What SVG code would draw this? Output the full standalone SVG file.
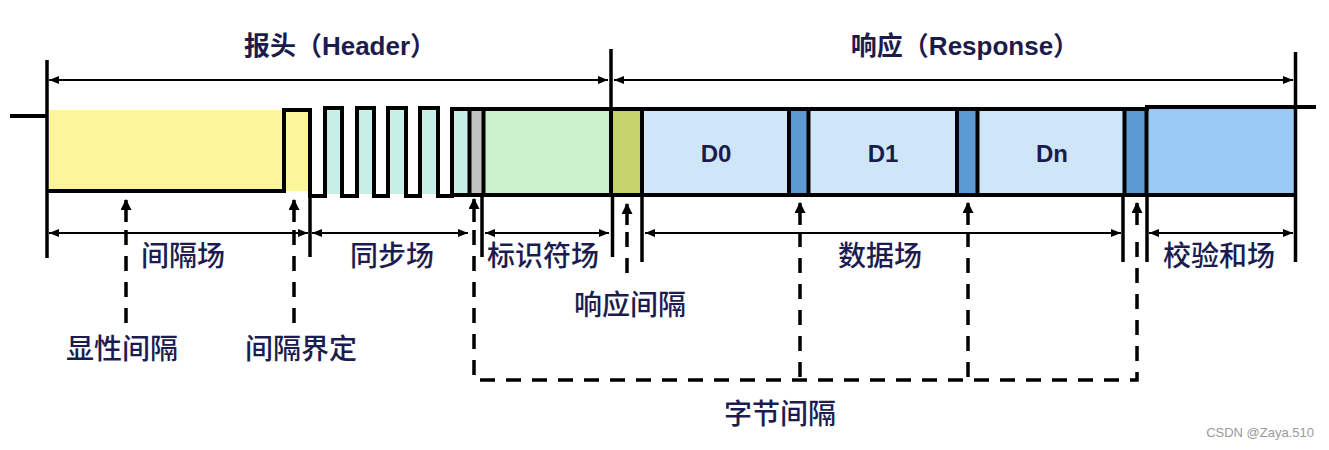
<svg xmlns="http://www.w3.org/2000/svg" width="1329" height="450" viewBox="0 0 1329 450">
<style>
.sig{fill:none;stroke:#000;stroke-width:4;stroke-linejoin:miter}
.tick{stroke:#000;stroke-width:3.5;fill:none}
.dim{stroke:#000;stroke-width:2;fill:none;marker-start:url(#ah);marker-end:url(#ah)}
.ptr{stroke:#000;stroke-width:3.5;fill:none;marker-end:url(#ahp)}
.dash{stroke:#000;stroke-width:3.5;fill:none;stroke-dasharray:15 11}
.sep{stroke:#000;stroke-width:4}
.title{font-family:"Liberation Sans","Noto Sans CJK SC",sans-serif;font-weight:bold;font-size:26px;fill:#1c1c4c;text-anchor:middle}
.lbl{font-family:"Noto Sans CJK SC",sans-serif;font-size:28px;font-weight:500;fill:#1c1c50;text-anchor:middle}
.dl{font-family:"Liberation Sans",sans-serif;font-weight:bold;font-size:24px;fill:#1c1c4c;text-anchor:middle}
</style>
<defs>
<marker id="ah" viewBox="0 0 10 8" refX="10" refY="4" markerWidth="11" markerHeight="8" markerUnits="userSpaceOnUse" orient="auto-start-reverse"><path d="M0,0 L10,4 L0,8 z" fill="#000"/></marker>
<marker id="ahp" viewBox="0 0 10 10" refX="9" refY="5" markerWidth="11" markerHeight="11" markerUnits="userSpaceOnUse" orient="auto"><path d="M0,0 L10,5 L0,10 z" fill="#000"/></marker>
</defs>
<rect width="1329" height="450" fill="#fff"/>

<g id="fills">
<rect x="49" y="110" width="235" height="81" fill="#fdf59c"/>
<rect x="286" y="111" width="23" height="80" fill="#fdf59c"/>
<rect x="327" y="110" width="14" height="84" fill="#c6f0e6"/>
<rect x="358" y="110" width="14" height="84" fill="#c6f0e6"/>
<rect x="390" y="110" width="15" height="84" fill="#c6f0e6"/>
<rect x="421" y="110" width="15" height="84" fill="#c6f0e6"/>
<rect x="454" y="111" width="14" height="83" fill="#c6f0e6"/>
<rect x="471" y="111" width="11" height="83" fill="#c2c2c2"/>
<rect x="485" y="111" width="124" height="83" fill="#c9f2cc"/>
<rect x="613" y="111" width="27" height="83" fill="#c6d46c"/>
<rect x="644" y="111" width="144" height="83" fill="#cfe6f8"/>
<rect x="791" y="111" width="16" height="83" fill="#5b9ad2"/>
<rect x="810" y="111" width="146" height="83" fill="#cfe6f8"/>
<rect x="959" y="111" width="17" height="83" fill="#5b9ad2"/>
<rect x="979" y="111" width="144" height="83" fill="#cfe6f8"/>
<rect x="1126" y="111" width="19" height="83" fill="#5b9ad2"/>
<rect x="1148" y="109" width="146" height="85" fill="#99c9f4"/>
</g>

<g id="signal">
<path class="sig" d="M10,116 H47 M47,191 H284 V110 H310 V196 H325 V108 H342 V196 H357 V108 H374 V196 H388 V108 H406 V196 H420 V108 H438 V196 H452 V109 H1147 V107 H1316 M452,195 H1297"/>
<line class="sep" x1="469.5" y1="109" x2="469.5" y2="196"/>
<line class="sep" x1="483.5" y1="109" x2="483.5" y2="196"/>
<line class="sep" x1="611" y1="109" x2="611" y2="196"/>
<line class="sep" x1="642" y1="109" x2="642" y2="196"/>
<line class="sep" x1="789" y1="109" x2="789" y2="196"/>
<line class="sep" x1="808.5" y1="109" x2="808.5" y2="196"/>
<line class="sep" x1="957" y1="109" x2="957" y2="196"/>
<line class="sep" x1="977.5" y1="109" x2="977.5" y2="196"/>
<line class="sep" x1="1124.5" y1="109" x2="1124.5" y2="196"/>
<line class="sep" x1="1146.5" y1="107" x2="1146.5" y2="196"/>
<text class="dl" x="716" y="162">D0</text>
<text class="dl" x="883" y="162">D1</text>
<text class="dl" x="1052" y="162">Dn</text>
</g>

<g id="connectors">
<line class="tick" x1="47" y1="60" x2="47" y2="258"/>
<line class="tick" x1="611" y1="49" x2="611" y2="110"/>
<line class="tick" x1="1295.5" y1="52" x2="1295.5" y2="262"/>
<line class="tick" x1="310" y1="195" x2="310" y2="257"/>
<line class="tick" x1="482" y1="195" x2="482" y2="257"/>
<line class="tick" x1="612.5" y1="195" x2="612.5" y2="257"/>
<line class="tick" x1="642" y1="195" x2="642" y2="262"/>
<line class="tick" x1="1123" y1="195" x2="1123" y2="262"/>
<line class="tick" x1="1147" y1="195" x2="1147" y2="262"/>

<line class="dim" x1="49" y1="80" x2="608" y2="80"/>
<line class="dim" x1="614" y1="80" x2="1293" y2="80"/>
<line class="dim" x1="49" y1="233" x2="308" y2="233"/>
<line class="dim" x1="312" y1="233" x2="468" y2="233"/>
<line class="dim" x1="485" y1="233" x2="609" y2="233"/>
<line class="dim" x1="645" y1="233" x2="1121" y2="233"/>
<line class="dim" x1="1149" y1="233" x2="1293" y2="233"/>

<line class="ptr" x1="126" y1="222" x2="126" y2="200"/>
<line class="ptr" x1="294" y1="222" x2="294" y2="200"/>
<line class="ptr" x1="474" y1="222" x2="474" y2="199"/>
<line class="ptr" x1="627" y1="225" x2="627" y2="204"/>
<line class="ptr" x1="800" y1="225" x2="800" y2="203"/>
<line class="ptr" x1="968" y1="225" x2="968" y2="203"/>
<line class="ptr" x1="1137" y1="225" x2="1137" y2="203"/>

<path class="dash" d="M126,230 V332"/>
<path class="dash" d="M294,230 V332"/>
<path class="dash" d="M627,232 V283"/>
<path class="dash" d="M474,230 V380 H1137 V232"/>
<path class="dash" d="M800,232 V380"/>
<path class="dash" d="M968,232 V380"/>
</g>

<g id="titles">
<text class="title" x="340" y="55">报头（Header）</text>
<text class="title" x="965" y="55">响应（Response）</text>
</g>

<g id="labels">
<text class="lbl" x="183" y="266">间隔场</text>
<text class="lbl" x="392" y="266">同步场</text>
<text class="lbl" x="543" y="266">标识符场</text>
<text class="lbl" x="880" y="266">数据场</text>
<text class="lbl" x="1219" y="266">校验和场</text>
<text class="lbl" x="122" y="359">显性间隔</text>
<text class="lbl" x="301" y="359">间隔界定</text>
<text class="lbl" x="630" y="315">响应间隔</text>
<text class="lbl" x="780" y="424">字节间隔</text>
</g>

<text x="1314" y="437" font-family="Liberation Sans, sans-serif" font-size="13" fill="#9a9a9a" text-anchor="end">CSDN @Zaya.510</text>
</svg>
